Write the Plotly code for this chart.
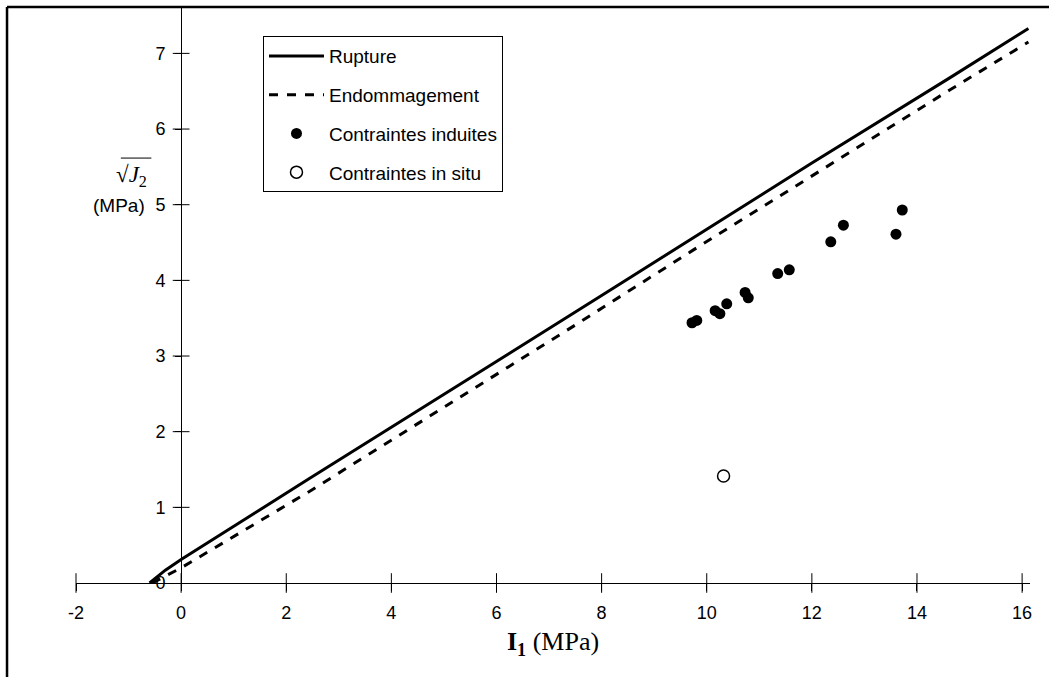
import plotly.graph_objects as go

# ---- data ----
rupture_x = [-0.6, -0.5, -0.3, 0.0, 2.44, 8.0, 12.0, 14.63, 16.12]
rupture_y = [0.0, 0.06, 0.17, 0.31, 1.38, 3.80, 5.55, 6.68, 7.33]

endo_x = [-0.55, -0.3, 0.0, 2.44, 7.5, 9.74, 14.63, 16.12]
endo_y = [0.0, 0.09, 0.2, 1.21, 3.41, 4.40, 6.52, 7.15]

induites_x = [9.72, 9.81, 10.16, 10.25, 10.38, 10.73, 10.79, 11.35, 11.57, 12.36, 12.60, 13.60, 13.72]
induites_y = [3.44, 3.47, 3.60, 3.56, 3.69, 3.84, 3.77, 4.09, 4.14, 4.51, 4.73, 4.61, 4.93]

insitu_x = [10.32]
insitu_y = [1.415]

x_ticks = [-2, 0, 2, 4, 6, 8, 10, 12, 14, 16]
x_ticklabels = ["-2", "0", "2", "4", "6", "8", "10", "12", "14", "16"]
y_ticks = [0, 1, 2, 3, 4, 5, 6, 7]

X_RANGE = [-2.0, 16.15]
Y_RANGE = [0.0, 7.6]

FONT = "Liberation Sans, Arial, sans-serif"
SERIF = "Liberation Serif, Times New Roman, serif"

fig = go.Figure()

fig.add_trace(go.Scatter(x=rupture_x, y=rupture_y, mode="lines", name="Rupture",
                         line=dict(color="black", width=3), legendgroup="a"))
fig.add_trace(go.Scatter(x=endo_x, y=endo_y, mode="lines", name="Endommagement",
                         line=dict(color="black", width=3, dash="dash"), legendgroup="b"))
fig.add_trace(go.Scatter(x=induites_x, y=induites_y, mode="markers", name="Contraintes induites",
                         marker=dict(color="black", size=11), legendgroup="c"))
fig.add_trace(go.Scatter(x=insitu_x, y=insitu_y, mode="markers", name="Contraintes in situ",
                         marker=dict(color="white", size=12, line=dict(color="black", width=1.5)),
                         legendgroup="d"))

# crossing tick marks
fig.add_trace(go.Scatter(x=x_ticks, y=[0] * len(x_ticks), mode="markers", showlegend=False,
                         hoverinfo="skip", cliponaxis=False,
                         marker=dict(symbol="line-ns-open", size=14, color="black",
                                     line=dict(color="black", width=1))))
fig.add_trace(go.Scatter(x=[0] * (len(y_ticks) - 1), y=y_ticks[1:], mode="markers", showlegend=False,
                         hoverinfo="skip", cliponaxis=False,
                         marker=dict(symbol="line-ew-open", size=12, color="black",
                                     line=dict(color="black", width=1))))

ypos = (0 - X_RANGE[0]) / (X_RANGE[1] - X_RANGE[0])

fig.update_layout(
    width=1049, height=677,
    margin=dict(l=76, r=19, t=8, b=94),
    plot_bgcolor="white", paper_bgcolor="white",
    font=dict(family=FONT, size=17, color="black"),
    showlegend=True,
    legend=dict(x=0.196, y=0.951, xanchor="left", yanchor="top",
                bordercolor="black", borderwidth=1, bgcolor="white",
                font=dict(family=FONT, size=19), traceorder="grouped", tracegroupgap=11,
                itemwidth=55),
    xaxis=dict(range=X_RANGE, tickvals=x_ticks, ticktext=x_ticklabels,
               ticks="outside", ticklen=7, tickcolor="black",
               showline=True, linecolor="black", linewidth=1, showgrid=False, zeroline=False,
               ticklabelstandoff=6, tickfont=dict(family=FONT, size=18),
               title=dict(text="<b>I</b><sub><b>1</b></sub> (MPa)",
                          font=dict(family=SERIF, size=26), standoff=10)),
    yaxis=dict(range=Y_RANGE, tickvals=y_ticks, ticks="outside", ticklen=6, tickcolor="black",
               anchor="free", position=ypos,
               showline=True, linecolor="black", linewidth=1, showgrid=False, zeroline=False,
               ticklabelstandoff=6, tickfont=dict(family=FONT, size=18)),
)

# y axis label
fig.add_annotation(xref="paper", yref="paper", x=0.0577, y=0.708, showarrow=False,
                   xanchor="center", yanchor="middle",
                   text="√<i>J</i><sub>2</sub>", font=dict(family=SERIF, size=23))
fig.add_shape(type="line", xref="paper", yref="paper", x0=0.047, x1=0.079, y0=0.739, y1=0.739,
              line=dict(color="black", width=1))
fig.add_annotation(xref="paper", yref="paper", x=0.045, y=0.657, showarrow=False,
                   xanchor="center", yanchor="middle",
                   text="(MPa)", font=dict(family=FONT, size=19))

# outer frame (left and top edges visible)
fig.add_shape(type="line", xref="paper", yref="paper", x0=-0.0723, x1=1.1, y0=1.0017, y1=1.0017,
              line=dict(color="black", width=2.5))
fig.add_shape(type="line", xref="paper", yref="paper", x0=-0.0723, x1=-0.0723, y0=-0.3, y1=1.0017,
              line=dict(color="black", width=2.5))

fig.write_html("out.html")
